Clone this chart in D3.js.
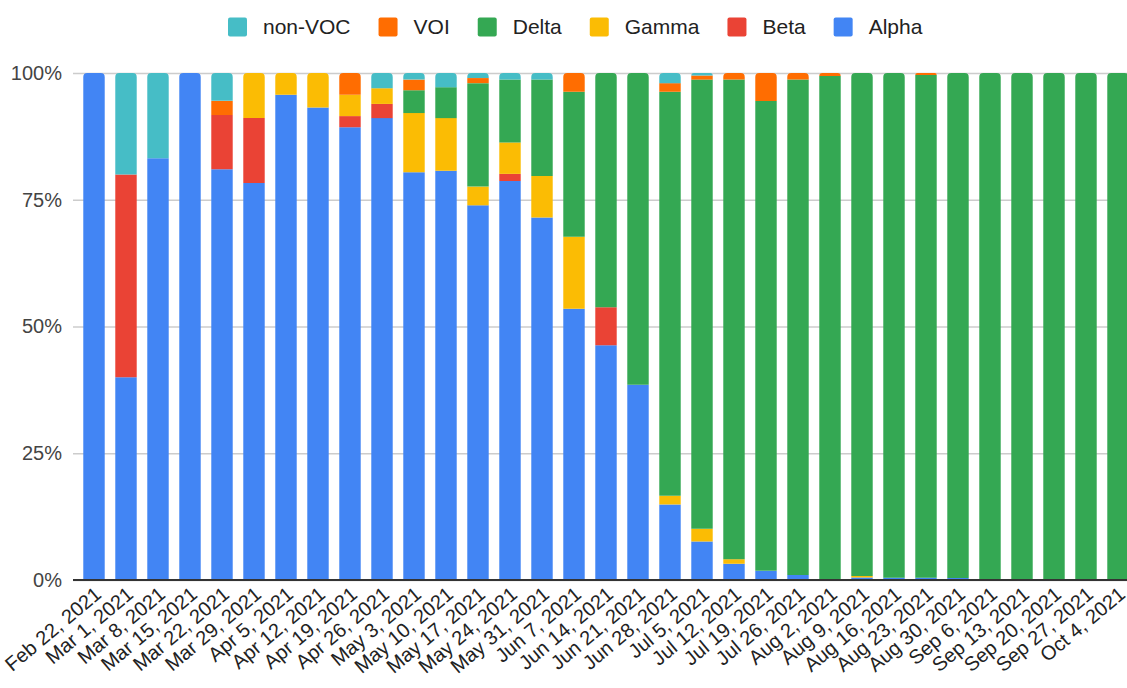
<!DOCTYPE html>
<html>
<head>
<meta charset="utf-8">
<script src="https://cdnjs.cloudflare.com/ajax/libs/d3/7.8.5/d3.min.js"></script>
<style>
	body { margin: 0; background: #fff; }
	text { font-family: Arial, "Liberation Sans", sans-serif; }
</style>
</head>
<body>
<script>
// Week labels
var weeks = ["Feb 22, 2021", "Mar 1, 2021", "Mar 8, 2021", "Mar 15, 2021", "Mar 22, 2021", "Mar 29, 2021",
	"Apr 5, 2021", "Apr 12, 2021", "Apr 19, 2021", "Apr 26, 2021", "May 3, 2021", "May 10, 2021",
	"May 17, 2021", "May 24, 2021", "May 31, 2021", "Jun 7, 2021", "Jun 14, 2021", "Jun 21, 2021",
	"Jun 28, 2021", "Jul 5, 2021", "Jul 12, 2021", "Jul 19, 2021", "Jul 26, 2021", "Aug 2, 2021",
	"Aug 9, 2021", "Aug 16, 2021", "Aug 23, 2021", "Aug 30, 2021", "Sep 6, 2021", "Sep 13, 2021",
	"Sep 20, 2021", "Sep 27, 2021", "Oct 4, 2021"];

// Share of each variant per week (%)
var alpha = [100, 40, 83.2, 100, 81.1, 78.3, 95.7, 93.2, 89.3, 91.1, 80.4, 80.7, 73.9, 78.7, 71.5, 53.5, 46.3,
	38.5, 14.9, 7.6, 3.2, 1.8, 1.0, 0, 0.5, 0.45, 0.45, 0.4, 0, 0, 0, 0, 0];
var beta = [0, 40, 0, 0, 10.7, 12.8, 0, 0, 2.2, 2.8, 0, 0, 0, 1.4, 0, 0, 7.5,
	0, 0, 0, 0, 0, 0, 0, 0, 0, 0, 0, 0, 0, 0, 0, 0];
var gamma = [0, 0, 0, 0, 0, 8.9, 4.3, 6.8, 4.2, 3.1, 11.7, 10.4, 3.7, 6.2, 8.2, 14.2, 0,
	0, 1.7, 2.5, 0.9, 0, 0, 0, 0.3, 0, 0, 0, 0, 0, 0, 0, 0];
var delta = [0, 0, 0, 0, 0, 0, 0, 0, 0, 0, 4.5, 6.1, 20.4, 12.4, 19.0, 28.6, 46.2,
	61.5, 79.7, 88.6, 94.6, 92.7, 97.7, 99.4, 99.2, 99.55, 99.15, 99.6, 100, 100, 100, 100, 100];
var voi = [0, 0, 0, 0, 2.8, 0, 0, 0, 4.3, 0, 2.1, 0, 1.0, 0, 0, 3.7, 0,
	0, 1.7, 0.8, 1.3, 5.5, 1.3, 0.6, 0, 0, 0.4, 0, 0, 0, 0, 0, 0];
var nonVoc = [0, 20, 16.8, 0, 5.5, 0, 0, 0, 0, 3.0, 1.3, 2.8, 1.0, 1.3, 1.3, 0, 0,
	0, 2.0, 0.5, 0, 0, 0, 0, 0, 0, 0, 0, 0, 0, 0, 0, 0];

var yTicks = [0, 0.25, 0.5, 0.75, 1];

// series, bottom of the stack first
var keys = ["Alpha", "Beta", "Gamma", "Delta", "VOI", "non-VOC"];
var colors = {"Alpha": "#4285F4", "Beta": "#EA4335", "Gamma": "#FBBC04", "Delta": "#34A853", "VOI": "#FF6D01", "non-VOC": "#46BDC6"};
var legendOrder = ["non-VOC", "VOI", "Delta", "Gamma", "Beta", "Alpha"];

// build rows for d3.stack
var dataset = weeks.map(function(w, i) {
	return {week: w, "Alpha": alpha[i], "Beta": beta[i], "Gamma": gamma[i], "Delta": delta[i], "VOI": voi[i], "non-VOC": nonVoc[i]};
});

var width = 1127, height = 688;
var plot = {left: 73, right: 1134, top: 73, bottom: 580};

var svg = d3.select("body")
	.append("svg")
	.attr("width", width)
	.attr("height", height);

var xScale = d3.scaleBand()
	.domain(weeks)
	.range([78, 1134])
	.paddingInner(0.33)
	.paddingOuter(0.165);

var yScale = d3.scaleLinear()
	.domain([0, 1])
	.range([plot.bottom, plot.top]);

// gridlines + y labels
var yAxis = d3.axisLeft(yScale)
	.tickValues(yTicks)
	.tickFormat(d3.format(".0%"))
	.tickSize(-(plot.right - plot.left))
	.tickPadding(11);

var yG = svg.append("g")
	.attr("transform", "translate(" + plot.left + ",0)")
	.call(yAxis);
yG.select(".domain").remove();
yG.selectAll("line").attr("stroke", "#cccccc").attr("stroke-width", 1.3);
yG.selectAll("text")
	.attr("font-size", 20)
	.attr("fill", "#444");

// stack normalised to 100%
var series = d3.stack()
	.keys(keys)
	.offset(d3.stackOffsetExpand)(dataset);

// find the top segment of each bar so it can get rounded corners
var topKey = dataset.map(function(d) {
	var k = null;
	keys.forEach(function(key) { if (d[key] > 0) k = key; });
	return k;
});

function segPath(x, y0, y1, w, round) {
	var r = round ? Math.min(4, (y0 - y1), w / 2) : 0;
	return "M" + x + "," + y0 +
		"L" + x + "," + (y1 + r) +
		(r ? "Q" + x + "," + y1 + " " + (x + r) + "," + y1 : "") +
		"L" + (x + w - r) + "," + y1 +
		(r ? "Q" + (x + w) + "," + y1 + " " + (x + w) + "," + (y1 + r) : "") +
		"L" + (x + w) + "," + y0 + "Z";
}

svg.append("g")
	.selectAll("g")
	.data(series)
	.enter()
	.append("g")
	.attr("fill", function(s) { return colors[s.key]; })
	.each(function(s) {
		d3.select(this).selectAll("path")
			.data(s.filter(function(d) { return d[1] - d[0] > 0; }))
			.enter()
			.append("path")
			.attr("d", function(d) {
				var i = weeks.indexOf(d.data.week);
				return segPath(xScale(d.data.week), yScale(d[0]), yScale(d[1]), xScale.bandwidth(), topKey[i] == s.key);
			});
	});

// baseline
svg.append("line")
	.attr("x1", plot.left)
	.attr("x2", plot.right)
	.attr("y1", yScale(0))
	.attr("y2", yScale(0))
	.attr("stroke", "#333")
	.attr("stroke-width", 2);

// x axis labels, rotated
var xAxis = d3.axisBottom(xScale).tickSize(0).tickPadding(0);
var xG = svg.append("g")
	.attr("transform", "translate(0," + plot.bottom + ")")
	.call(xAxis);
xG.select(".domain").remove();
xG.selectAll("text")
	.attr("font-size", 20)
	.attr("fill", "#222")
	.attr("text-anchor", "end")
	.attr("x", 0)
	.attr("y", 0)
	.attr("dy", "0.35em")
	.attr("transform", "translate(4,11) rotate(-40)");

// legend
var legend = svg.append("g").attr("transform", "translate(228,27)");
var lx = 0;
legendOrder.forEach(function(key) {
	var item = legend.append("g").attr("transform", "translate(" + lx + ",0)");
	item.append("rect")
		.attr("x", 0)
		.attr("y", -9.5)
		.attr("width", 19)
		.attr("height", 19)
		.attr("rx", 2)
		.attr("fill", colors[key]);
	var t = item.append("text")
		.attr("x", 35)
		.attr("dy", "0.35em")
		.attr("font-size", 21)
		.attr("fill", "#222")
		.text(key);
	lx += 35 + t.node().getComputedTextLength() + 28;
});
</script>
</body>
</html>
